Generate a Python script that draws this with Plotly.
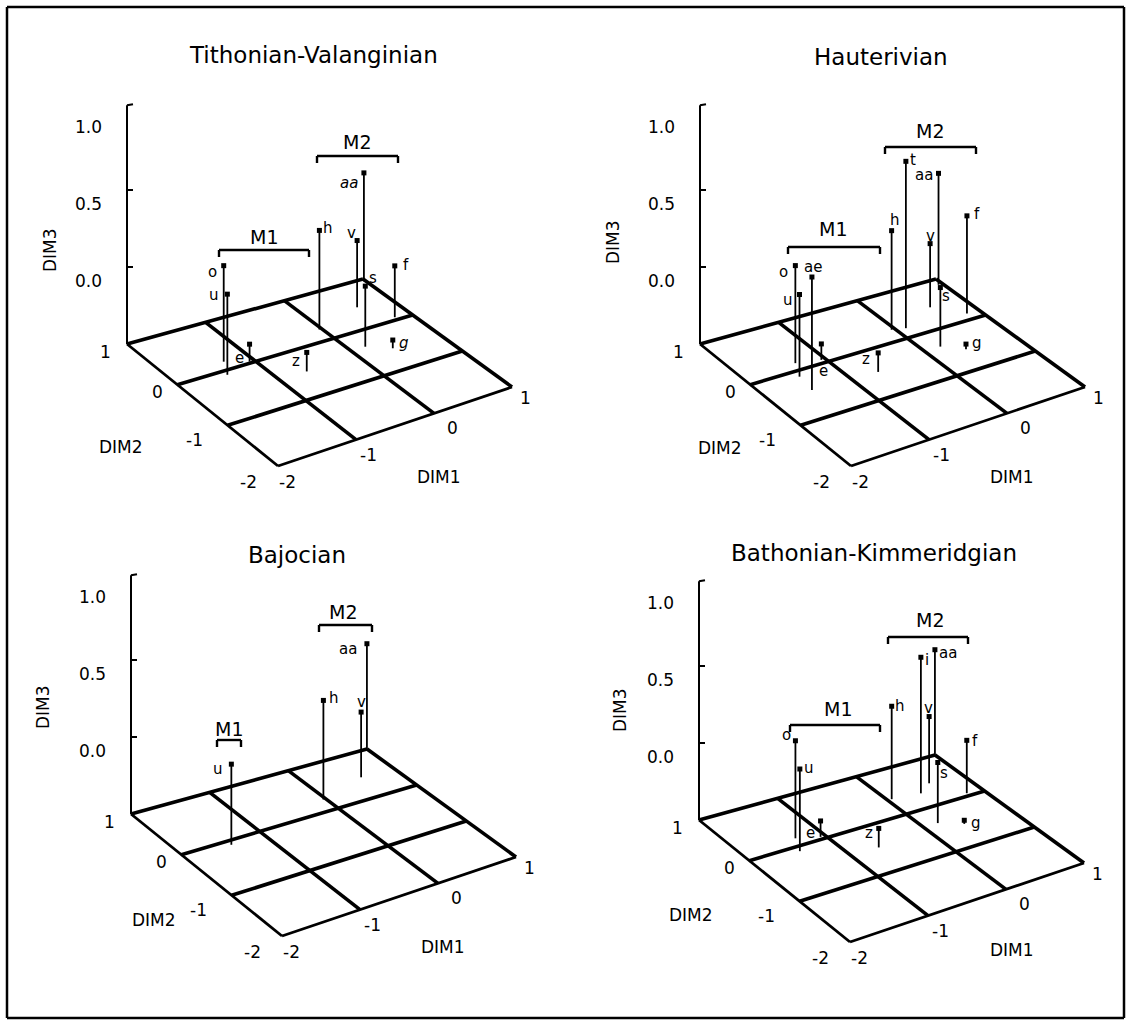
import plotly.graph_objects as go

W, H = 1131, 1023
FONT = "DejaVu Sans"

# ---------------------------------------------------------------- data
titles = ["Tithonian-Valanginian", "Hauterivian", "Bajocian", "Bathonian-Kimmeridgian"]

tv_taxa = ["o", "u", "e", "z", "h", "v", "aa", "s", "f", "g"]
tv_dim1 = [-1.30, -1.42, -1.06, -0.65, -0.03, 0.59, 0.98, 0.18, 0.81, 0.41]
tv_dim2 = [0.17, -0.09, 0.03, -0.47, 0.25, 0.47, 0.95, -0.34, 0.06, -0.53]
tv_dim3 = [0.13, 0.03, -0.38, -0.37, 0.15, -0.06, 0.21, -0.10, -0.16, -0.44]

ha_taxa = ["o", "ae", "u", "e", "z", "h", "t", "aa", "v", "s", "f", "g"]
ha_dim1 = [-1.33, -1.49, -1.45, -1.05, -0.67, -0.04, 0.11, 0.95, 0.59, 0.20, 0.85, 0.40]
ha_dim2 = [0.15, -0.43, -0.12, 0.07, -0.47, 0.25, 0.20, 0.87, 0.47, -0.35, 0.14, -0.55]
ha_dim3 = [0.14, 0.24, 0.04, -0.39, -0.37, 0.15, 0.59, 0.23, -0.08, -0.11, 0.14, -0.46]

ba_taxa = ["u", "h", "v", "aa"]
ba_dim1 = [-1.42, -0.03, 0.59, 0.98]
ba_dim2 = [-0.09, 0.25, 0.47, 0.97]
ba_dim3 = [0.03, 0.15, -0.07, 0.20]

bk_taxa = ["o", "u", "e", "z", "h", "i", "aa", "v", "s", "f", "g"]
bk_dim1 = [-1.31, -1.42, -1.06, -0.65, 0.05, 0.39, 0.98, 0.59, 0.18, 0.81, 0.41]
bk_dim2 = [0.16, -0.10, 0.05, -0.47, 0.37, 0.32, 0.97, 0.47, -0.35, 0.06, -0.52]
bk_dim3 = [0.14, 0.04, -0.39, -0.37, 0.11, 0.39, 0.20, -0.06, -0.10, -0.15, -0.47]

dim12_ticks = [-2, -1, 0, 1]
dim3_ticks = [0.0, 0.5, 1.0]
dim3_ticklabels = ["0.0", "0.5", "1.0"]

# ---------------------------------------------------------------- styling / layout
# label offsets (px) of each taxon name from its point head
tv_lab = [(-11, 7), (-13, 2), (-10, 15), (-11, 10), (9, -1), (-6, -7), (-15, 11), (8, -7), (11, 0), (11, 4)]
ha_lab = [(-12, 7), (1, -9), (-12, 6), (2, 28), (-12, 7), (3, -10), (7, 0), (-15, 3), (0, -7), (6, 9), (10, -1), (11, 0)]
ba_lab = [(-13, 6), (11, -1), (0, -9), (-19, 6)]
bk_lab = [(-9, -5), (9, 0), (-10, 13), (-10, 6), (8, 1), (6, 4), (13, 4), (-1, -8), (6, 12), (8, 2), (12, 4)]
tv_italic = {"aa", "g"}

panels = [
    dict(title=titles[0], taxa=tv_taxa, d1=tv_dim1, d2=tv_dim2, d3=tv_dim3, lab=tv_lab,
         italic=tv_italic, off=(0, 0), tpos=(313, 55),
         ax3=(50, 250), ax2=(121, 447), ax1=(439, 477),
         groups=[("M2", 317, 398, 156, 357, 142), ("M1", 219, 309, 250, 264, 237)]),
    dict(title=titles[1], taxa=ha_taxa, d1=ha_dim1, d2=ha_dim2, d3=ha_dim3, lab=ha_lab,
         italic=set(), off=(573, 0), tpos=(881, 57),
         ax3=(613, 242), ax2=(720, 448), ax1=(1012, 477),
         groups=[("M2", 885, 976, 147, 930, 131), ("M1", 788, 880, 247, 833, 229)]),
    dict(title=titles[2], taxa=ba_taxa, d1=ba_dim1, d2=ba_dim2, d3=ba_dim3, lab=ba_lab,
         italic=set(), off=(4, 470), tpos=(297, 555),
         ax3=(43, 707), ax2=(154, 920), ax1=(443, 947),
         groups=[("M2", 319, 372, 625, 343, 612), ("M1", 217, 241, 740, 229, 729)]),
    dict(title=titles[3], taxa=bk_taxa, d1=bk_dim1, d2=bk_dim2, d3=bk_dim3, lab=bk_lab,
         italic=set(), off=(572, 476), tpos=(874, 553),
         ax3=(620, 710), ax2=(691, 915), ax1=(1012, 950),
         groups=[("M2", 888, 968, 637, 930, 620), ("M1", 790, 880, 725, 838, 709)]),
]

# floor corners of the oblique view, in px for a panel at offset (0, 0)
BL, BR, FR, FL = (127, 344), (363, 279), (512, 387), (278, 466)
FLOOR = -0.5       # DIM3 value of the floor plane
ZSCALE = 154       # px per DIM3 unit
ZTOP = 1.05        # top of the DIM3 axis
# tick label offsets along the DIM2 (left) and DIM1 (front) edges
dim2_lab_off = {1: (-22, 8), 0: (-20, 7), -1: (-33, 15), -2: (-30, 16)}
dim1_lab_off = {-2: (9, 16), -1: (12, 15), 0: (18, 15), 1: (13, 11)}


def floor_xy(d1, d2):
    u = (d1 + 2) / 3
    v = (1 - d2) / 3
    x = BL[0] + u * (BR[0] - BL[0]) + v * (FL[0] - BL[0]) + u * v * (FR[0] - BR[0] - FL[0] + BL[0])
    y = BL[1] + u * (BR[1] - BL[1]) + v * (FL[1] - BL[1]) + u * v * (FR[1] - BR[1] - FL[1] + BL[1])
    return x, y


def project(d1, d2, d3, off):
    x, y = floor_xy(d1, d2)
    return x + off[0], y + off[1] - (d3 - FLOOR) * ZSCALE


def seg_trace(segs, width):
    xs, ys = [], []
    for (x0, y0), (x1, y1) in segs:
        xs += [x0, x1, None]
        ys += [y0, y1, None]
    return go.Scatter(x=xs, y=ys, mode="lines", line=dict(color="black", width=width),
                      hoverinfo="skip", showlegend=False)


fig = go.Figure()
ann = []


def text(x, y, s, size, **kw):
    ann.append(dict(x=x, y=y, xref="x", yref="y", text=s, showarrow=False,
                    font=dict(family=FONT, size=size, color="black"), **kw))


for p in panels:
    off = p["off"]
    thick, thin = [], []
    # floor grid: lines of constant DIM1 and constant DIM2
    for t in dim12_ticks:
        seg = (project(t, 1, FLOOR, off), project(t, -2, FLOOR, off))
        (thin if t == -2 else thick).append(seg)
        seg = (project(-2, t, FLOOR, off), project(1, t, FLOOR, off))
        (thin if t == -2 else thick).append(seg)
    fig.add_trace(seg_trace(thick, 3.6))
    fig.add_trace(seg_trace(thin, 2.8))

    # DIM3 axis with ticks pointing inward and a hook at the top
    axis = [(project(-2, 1, FLOOR, off), project(-2, 1, ZTOP, off))]
    for t in dim3_ticks[:2]:
        x, y = project(-2, 1, t, off)
        axis.append(((x, y), (x + 6, y)))
    x, y = project(-2, 1, ZTOP, off)
    axis.append(((x, y), (x + 6, y - 1)))
    fig.add_trace(seg_trace(axis, 2))

    # stems from the floor up to each taxon
    stems = [(project(a, b, FLOOR, off), project(a, b, c, off)) for a, b, c in zip(p["d1"], p["d2"], p["d3"])]
    fig.add_trace(seg_trace(stems, 1.8))
    heads = [project(a, b, c, off) for a, b, c in zip(p["d1"], p["d2"], p["d3"])]
    fig.add_trace(go.Scatter(x=[h[0] for h in heads], y=[h[1] + 1 for h in heads], mode="markers",
                             marker=dict(symbol="square", size=5, color="black"),
                             hoverinfo="skip", showlegend=False))
    for (hx, hy), name, (dx, dy) in zip(heads, p["taxa"], p["lab"]):
        s = f"<i>{name}</i>" if name in p["italic"] else name
        text(hx + dx, hy + dy, s, 15)

    # tick labels
    for t in dim12_ticks:
        x, y = project(-2, t, FLOOR, off)
        dx, dy = dim2_lab_off[t]
        text(x + dx, y + dy, str(t).replace("-", "-"), 17)
        x, y = project(t, -2, FLOOR, off)
        dx, dy = dim1_lab_off[t]
        text(x + dx, y + dy, str(t), 17)
    for t, s in zip(dim3_ticks, dim3_ticklabels):
        x, y = project(-2, 1, t, off)
        text(x - 39, y + 14, s, 17)

    # titles
    text(*p["tpos"], p["title"], 23)
    text(*p["ax3"], "DIM3", 17, textangle=-90)
    text(*p["ax2"], "DIM2", 17)
    text(*p["ax1"], "DIM1", 17)

    # group brackets
    br = []
    for name, x0, x1, yb, lx, ly in p["groups"]:
        br += [((x0, yb + 7), (x0, yb)), ((x0, yb), (x1, yb)), ((x1, yb), (x1, yb + 7))]
        text(lx, ly, name, 19)
    fig.add_trace(seg_trace(br, 2.4))

# outer frame
fig.add_trace(seg_trace([((7, 7), (1124, 7)), ((1124, 7), (1124, 1018)),
                         ((1124, 1018), (7, 1018)), ((7, 1018), (7, 7))], 2.5))

fig.update_layout(
    width=W, height=H, margin=dict(l=0, r=0, t=0, b=0),
    paper_bgcolor="white", plot_bgcolor="white",
    xaxis=dict(range=[0, W], visible=False, fixedrange=True),
    yaxis=dict(range=[H, 0], visible=False, fixedrange=True),
    annotations=ann, showlegend=False,
)
fig.write_html("out.html")
